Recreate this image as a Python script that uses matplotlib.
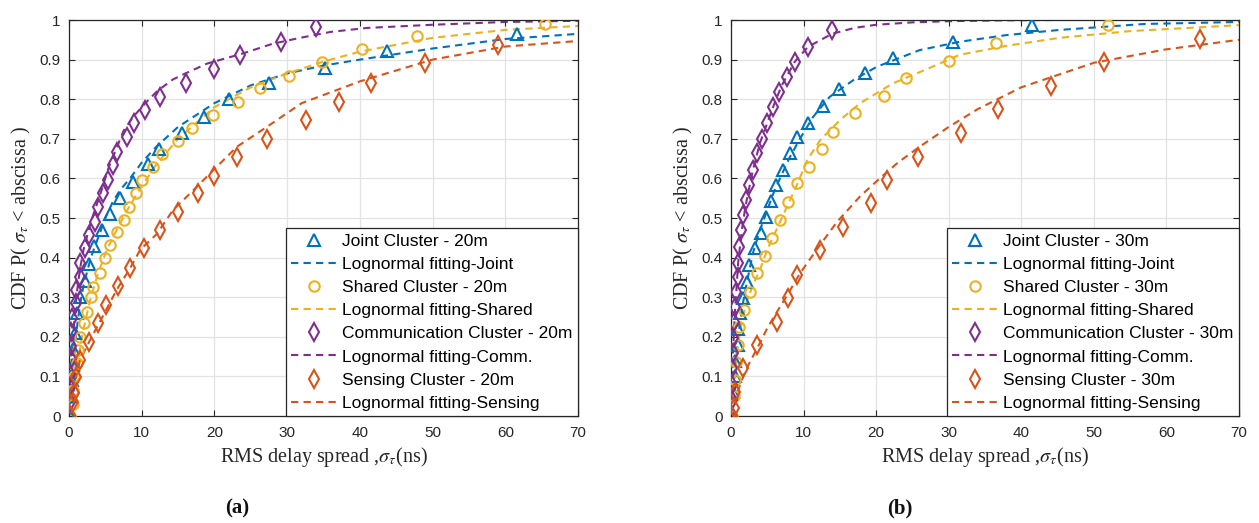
import matplotlib
matplotlib.use("Agg")
import matplotlib.pyplot as plt

plt.rcParams['mathtext.fontset'] = 'stix'

C_JOINT = '#0072BD'
C_SHARED = '#EDB120'
C_COMM = '#7E2F8E'
C_SENS = '#D95319'

# ---------------- (a) 20 m ----------------
a_joint_x = [0.1, 0.3, 0.4, 0.5, 0.6, 0.8, 1.1, 1.5, 2.2, 2.7, 3.5, 4.5, 5.6, 7.0, 8.8, 10.9, 12.4, 15.6, 18.6, 22.0, 27.5, 35.2, 43.7, 61.6]
a_joint_y = [0.0, 0.05, 0.09, 0.13, 0.17, 0.21, 0.26, 0.30, 0.34, 0.385, 0.43, 0.47, 0.51, 0.55, 0.59, 0.636, 0.675, 0.715, 0.755, 0.80, 0.84, 0.88, 0.922, 0.965]
a_joint_fit_x = [0, 0.3, 0.6, 1, 1.5, 2, 3, 4, 5, 6, 7, 8.4, 10, 12, 15, 20, 25, 30, 35, 40, 50, 60, 70]
a_joint_fit_y = [0, 0.05, 0.13, 0.21, 0.28, 0.33, 0.40, 0.45, 0.50, 0.54, 0.57, 0.60, 0.64, 0.68, 0.73, 0.79, 0.835, 0.865, 0.885, 0.90, 0.928, 0.952, 0.965]

a_shared_x = [0.1, 0.5, 0.6, 0.7, 1.1, 1.3, 1.5, 2.0, 2.5, 3.0, 3.3, 4.3, 5.0, 5.6, 6.6, 7.5, 8.3, 9.2, 10.0, 11.6, 12.8, 15.0, 16.9, 19.8, 23.3, 26.2, 30.3, 34.8, 40.3, 47.9, 65.5]
a_shared_y = [0.0, 0.03, 0.065, 0.10, 0.135, 0.167, 0.20, 0.235, 0.263, 0.30, 0.326, 0.362, 0.40, 0.432, 0.465, 0.495, 0.528, 0.562, 0.596, 0.63, 0.662, 0.694, 0.728, 0.76, 0.793, 0.828, 0.859, 0.895, 0.926, 0.96, 0.99]
a_shared_fit_x = [0, 0.5, 1, 1.5, 2, 3, 4, 5, 6, 8, 10, 12, 15, 20, 25, 30, 35, 40, 50, 60, 70]
a_shared_fit_y = [0, 0.04, 0.11, 0.17, 0.22, 0.30, 0.36, 0.41, 0.45, 0.52, 0.58, 0.635, 0.70, 0.78, 0.83, 0.865, 0.895, 0.92, 0.955, 0.975, 0.985]

a_comm_x = [0.1, 0.2, 0.2, 0.2, 0.3, 0.3, 0.3, 0.4, 0.9, 1.0, 1.5, 1.5, 2.2, 2.8, 3.6, 4.0, 4.7, 5.4, 6.1, 6.6, 8.0, 9.0, 10.5, 12.5, 16.1, 20.0, 23.5, 29.2, 34.0]
a_comm_y = [0.0, 0.035, 0.072, 0.105, 0.143, 0.177, 0.213, 0.248, 0.285, 0.318, 0.352, 0.386, 0.424, 0.457, 0.49, 0.528, 0.563, 0.596, 0.634, 0.667, 0.704, 0.739, 0.772, 0.806, 0.842, 0.876, 0.912, 0.945, 0.983]
a_comm_fit_x = [0, 0.2, 0.5, 1, 1.5, 2, 3, 4.3, 5.5, 6.4, 7.5, 8.8, 10.5, 12.1, 14.3, 16, 19, 24, 28, 31.8, 36, 41, 50, 60, 70]
a_comm_fit_y = [0, 0.08, 0.19, 0.30, 0.37, 0.42, 0.49, 0.56, 0.63, 0.67, 0.72, 0.755, 0.79, 0.82, 0.85, 0.865, 0.89, 0.916, 0.94, 0.955, 0.97, 0.98, 0.988, 0.995, 0.998]

a_sens_x = [0.1, 0.6, 0.7, 1.0, 1.5, 2.7, 4.0, 5.1, 6.8, 8.4, 10.3, 12.5, 15.0, 17.7, 20.0, 23.1, 27.2, 32.6, 37.2, 41.5, 49.0, 59.0]
a_sens_y = [0.0, 0.035, 0.057, 0.098, 0.141, 0.187, 0.235, 0.28, 0.328, 0.373, 0.424, 0.47, 0.515, 0.562, 0.607, 0.655, 0.699, 0.747, 0.794, 0.841, 0.891, 0.937]
a_sens_fit_x = [0, 0.5, 0.9, 1.5, 2.7, 4.3, 6.6, 8.4, 9.8, 12.1, 14.3, 17.1, 19.8, 23.1, 27.2, 32, 40, 50, 60, 70]
a_sens_fit_y = [0, 0.05, 0.09, 0.14, 0.185, 0.24, 0.32, 0.373, 0.42, 0.46, 0.52, 0.57, 0.62, 0.68, 0.73, 0.79, 0.845, 0.90, 0.933, 0.947]

# ---------------- (b) 30 m ----------------
b_joint_x = [0.1, 0.3, 0.5, 0.6, 0.9, 1.0, 1.2, 1.7, 2.2, 2.5, 3.3, 4.1, 4.8, 5.5, 6.2, 7.2, 8.1, 9.1, 10.6, 12.7, 14.9, 18.5, 22.3, 30.6, 41.5]
b_joint_y = [0.0, 0.06, 0.10, 0.14, 0.18, 0.22, 0.26, 0.298, 0.338, 0.381, 0.424, 0.462, 0.503, 0.543, 0.583, 0.621, 0.664, 0.704, 0.74, 0.783, 0.825, 0.867, 0.903, 0.945, 0.987]
b_joint_fit_x = [0, 0.3, 0.6, 1, 1.5, 2, 3, 4, 5, 6, 7, 8, 9.5, 11.3, 13.6, 17, 20.1, 26, 31.5, 38, 45.3, 57, 70]
b_joint_fit_y = [0, 0.06, 0.13, 0.20, 0.27, 0.32, 0.41, 0.47, 0.52, 0.57, 0.61, 0.65, 0.70, 0.755, 0.806, 0.85, 0.882, 0.924, 0.945, 0.962, 0.975, 0.99, 0.995]

b_shared_x = [0.1, 0.4, 0.5, 0.7, 0.9, 1.1, 1.8, 2.6, 3.6, 4.7, 5.6, 6.7, 7.9, 9.1, 10.8, 12.5, 14.1, 17.1, 21.1, 24.1, 30.0, 36.5, 51.9]
b_shared_y = [0.0, 0.05, 0.09, 0.137, 0.18, 0.225, 0.268, 0.314, 0.361, 0.405, 0.45, 0.495, 0.54, 0.588, 0.629, 0.674, 0.718, 0.765, 0.808, 0.853, 0.897, 0.942, 0.987]
b_shared_fit_x = [0, 0.5, 1, 2, 3, 4, 5, 6, 7, 8, 9, 10.5, 12.3, 15, 17.8, 22.3, 27, 31.5, 38, 45.3, 55, 70]
b_shared_fit_y = [0, 0.08, 0.19, 0.28, 0.33, 0.37, 0.42, 0.46, 0.50, 0.54, 0.58, 0.646, 0.697, 0.747, 0.79, 0.84, 0.876, 0.912, 0.935, 0.955, 0.972, 0.987]

b_comm_x = [0.1, 0.15, 0.15, 0.2, 0.25, 0.3, 0.4, 0.6, 0.7, 0.9, 1.0, 1.1, 1.4, 1.7, 2.1, 2.5, 3.1, 3.6, 4.3, 5.0, 5.8, 6.6, 7.7, 8.8, 10.6, 13.9]
b_comm_y = [0.0, 0.04, 0.078, 0.12, 0.158, 0.197, 0.237, 0.275, 0.314, 0.352, 0.386, 0.428, 0.47, 0.507, 0.545, 0.583, 0.621, 0.664, 0.70, 0.74, 0.78, 0.818, 0.856, 0.894, 0.932, 0.975]
b_comm_fit_x = [0, 0.2, 0.5, 1, 1.5, 2, 3, 4, 5, 6, 7, 8.8, 10.6, 13.9, 17, 20, 25, 30, 37, 45]
b_comm_fit_y = [0, 0.12, 0.25, 0.39, 0.47, 0.53, 0.62, 0.69, 0.74, 0.79, 0.835, 0.895, 0.932, 0.965, 0.98, 0.988, 0.994, 0.997, 0.999, 1.0]

b_sens_x = [0.2, 0.4, 0.6, 1.7, 3.6, 6.3, 7.9, 9.1, 12.3, 15.4, 19.3, 21.5, 25.8, 31.7, 36.8, 44.1, 51.4, 64.6]
b_sens_y = [0.0, 0.02, 0.06, 0.12, 0.18, 0.238, 0.298, 0.356, 0.418, 0.478, 0.537, 0.596, 0.654, 0.715, 0.775, 0.834, 0.893, 0.953]
b_sens_fit_x = [0, 0.5, 1, 2, 3, 4, 5, 6.3, 7.9, 9.5, 11.8, 14.6, 17.8, 20.5, 23, 26, 30, 34, 40, 50, 60, 70]
b_sens_fit_y = [0, 0.03, 0.066, 0.115, 0.15, 0.185, 0.222, 0.262, 0.31, 0.36, 0.42, 0.49, 0.555, 0.60, 0.64, 0.68, 0.73, 0.775, 0.83, 0.892, 0.926, 0.95]

x_ticks = [0, 10, 20, 30, 40, 50, 60, 70]
y_ticks = [0, 0.1, 0.2, 0.3, 0.4, 0.5, 0.6, 0.7, 0.8, 0.9, 1]
y_tick_labels = ['0', '0.1', '0.2', '0.3', '0.4', '0.5', '0.6', '0.7', '0.8', '0.9', '1']

panels = [
    dict(dist='20m', tag='(a)',
         joint=(a_joint_x, a_joint_y), joint_fit=(a_joint_fit_x, a_joint_fit_y),
         shared=(a_shared_x, a_shared_y), shared_fit=(a_shared_fit_x, a_shared_fit_y),
         comm=(a_comm_x, a_comm_y), comm_fit=(a_comm_fit_x, a_comm_fit_y),
         sens=(a_sens_x, a_sens_y), sens_fit=(a_sens_fit_x, a_sens_fit_y)),
    dict(dist='30m', tag='(b)',
         joint=(b_joint_x, b_joint_y), joint_fit=(b_joint_fit_x, b_joint_fit_y),
         shared=(b_shared_x, b_shared_y), shared_fit=(b_shared_fit_x, b_shared_fit_y),
         comm=(b_comm_x, b_comm_y), comm_fit=(b_comm_fit_x, b_comm_fit_y),
         sens=(b_sens_x, b_sens_y), sens_fit=(b_sens_fit_x, b_sens_fit_y)),
]

W, H = 1259, 523
fig = plt.figure(figsize=(W / 100, H / 100), dpi=100)
rects = [[69 / W, 107 / H, 509 / W, 396 / H], [731 / W, 107 / H, 508 / W, 396 / H]]
tag_x = [237 / W, 900 / W]

SANS = ['Liberation Sans', 'DejaVu Sans']
SERIF = ['Liberation Serif', 'DejaVu Serif']
dash = (3.5, 2.5)
mew = 1.5

for p, rect, tx in zip(panels, rects, tag_x):
    ax = fig.add_axes(rect)
    ax.plot(*p['joint'], linestyle='none', marker='^', ms=8.5, mfc='none', mec=C_JOINT, mew=mew,
            label='Joint Cluster - ' + p['dist'], zorder=3)
    ax.plot(*p['joint_fit'], color=C_JOINT, lw=1.5, dashes=dash, label='Lognormal fitting-Joint', zorder=2)
    ax.plot(*p['shared'], linestyle='none', marker='o', ms=7.5, mfc='none', mec=C_SHARED, mew=mew,
            label='Shared Cluster - ' + p['dist'], zorder=3)
    ax.plot(*p['shared_fit'], color=C_SHARED, lw=1.5, dashes=dash, label='Lognormal fitting-Shared', zorder=2)
    ax.plot(*p['comm'], linestyle='none', marker='d', ms=9, mfc='none', mec=C_COMM, mew=mew,
            label='Communication Cluster - ' + p['dist'], zorder=3)
    ax.plot(*p['comm_fit'], color=C_COMM, lw=1.5, dashes=dash, label='Lognormal fitting-Comm.', zorder=2)
    ax.plot(*p['sens'], linestyle='none', marker='d', ms=9, mfc='none', mec=C_SENS, mew=mew,
            label='Sensing Cluster - ' + p['dist'], zorder=3)
    ax.plot(*p['sens_fit'], color=C_SENS, lw=1.5, dashes=dash, label='Lognormal fitting-Sensing', zorder=2)

    ax.set_xlim(0, 70)
    ax.set_ylim(0, 1)
    ax.set_xticks(x_ticks)
    ax.set_yticks(y_ticks)
    ax.set_yticklabels(y_tick_labels)
    ax.grid(True, color='#e3e3e3', lw=0.9)
    ax.set_axisbelow(True)
    for s in ax.spines.values():
        s.set_color('#262626')
        s.set_linewidth(0.9)
    ax.tick_params(direction='in', top=True, right=True, length=4, width=0.8, color='#262626',
                   labelsize=11, labelcolor='#262626')
    ax.tick_params(axis='x', pad=7)
    ax.tick_params(axis='y', pad=6)
    for lab in ax.get_xticklabels() + ax.get_yticklabels():
        lab.set_family(SANS)

    ax.set_xlabel(r'RMS delay spread ,$\sigma_{\tau}$(ns)', family=SERIF, fontsize=14.5, color='#262626')
    ax.set_ylabel(r'CDF P( $\sigma_{\tau}$ < abscissa )', family=SERIF, fontsize=14.5, color='#262626')
    ax.xaxis.set_label_coords(0.5, -0.072)
    ax.yaxis.set_label_coords(-0.07, 0.5)

    leg = ax.legend(loc='lower right', borderaxespad=0, frameon=True, fancybox=False,
                    prop={'family': SANS, 'size': 12.5}, handlelength=2.65, handletextpad=0.3,
                    labelspacing=0.46, borderpad=0.3, markerscale=1.0)
    leg.get_frame().set_edgecolor('#262626')
    leg.get_frame().set_linewidth(0.9)
    leg.get_frame().set_alpha(1)

    fig.text(tx, 1 - 508 / H, p['tag'], family=SERIF, fontweight='bold', fontsize=15,
             ha='center', va='center', color='#111111')

fig.savefig('out.png', dpi=100)
